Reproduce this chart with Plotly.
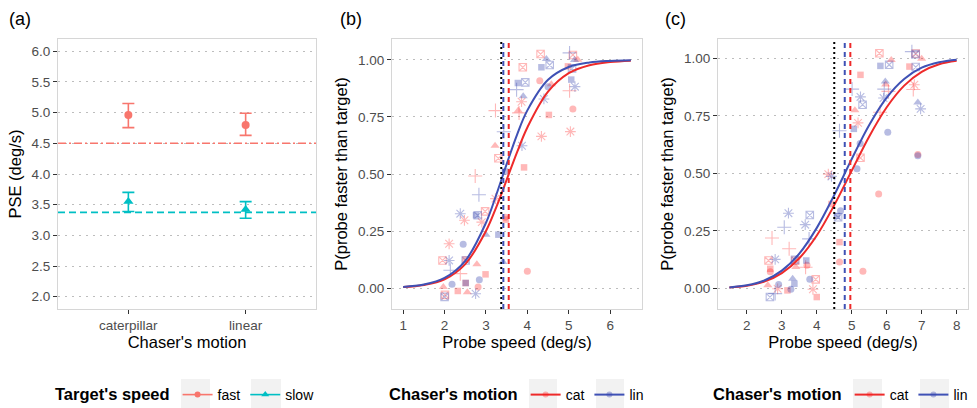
import plotly.graph_objects as go

W, H = 977, 408

# ---------------- Panel (a) data ----------------
a_motion = ["caterpillar", "linear"]
a_fast_pse = [4.96, 4.80]
a_fast_hi = [5.15, 4.99]
a_fast_lo = [4.755, 4.63]
a_slow_pse = [3.55, 3.42]
a_slow_hi = [3.70, 3.55]
a_slow_lo = [3.39, 3.28]
a_fast_target = 4.5
a_slow_target = 3.375
a_yticks = [2.0, 2.5, 3.0, 3.5, 4.0, 4.5, 5.0, 5.5, 6.0]

# ---------------- Panel (b) data ----------------
b_xticks = [1, 2, 3, 4, 5, 6]
p_yticks = [0.0, 0.25, 0.5, 0.75, 1.0]
b_target = 3.37
b_pse_lin = 3.42
b_pse_cat = 3.55
b_curve_x = [1.0, 1.5, 2.0, 2.5, 3.0, 3.25, 3.5, 3.75, 4.0, 4.5, 5.0, 5.5, 6.0, 6.5]
b_curve_cat = [0.004, 0.013, 0.038, 0.105, 0.250, 0.355, 0.474, 0.595, 0.704, 0.861, 0.942, 0.977, 0.991, 0.997]
b_curve_lin = [0.005, 0.015, 0.044, 0.119, 0.286, 0.409, 0.543, 0.672, 0.779, 0.913, 0.969, 0.989, 0.996, 0.999]

# points: (motion, shape, x, y)
b_pt_motion = ["cat", "lin", "lin", "lin", "lin", "cat", "cat", "lin", "cat", "lin",
               "cat", "lin", "lin", "lin", "lin", "cat", "cat", "cat", "cat", "cat",
               "cat", "lin", "lin", "lin", "lin", "cat", "cat", "cat", "cat", "cat",
               "lin", "cat", "cat", "cat", "lin", "lin",
               "cat", "lin", "cat", "lin", "cat", "lin", "lin", "cat", "cat", "lin",
               "lin", "cat", "cat", "cat", "lin", "cat", "lin", "lin", "cat", "cat",
               "lin", "cat", "cat", "lin", "lin", "lin", "cat", "cat", "cat", "cat",
               "lin", "lin", "cat", "cat", "cat", "lin"]
b_pt_shape = ["sqx", "tri", "sqx", "sq", "plus", "sqx", "tri", "tri", "sq", "sqx",
              "sqx", "sq", "sqx", "plus", "tri", "ast", "plus", "tri", "plus", "circ",
              "tri", "circ", "ast", "sq", "ast", "plus", "circ", "sq", "ast", "ast",
              "ast", "tri", "sqx", "sq", "plus", "sq",
              "plus", "plus", "ast", "ast", "ast", "sqx", "sq", "sqx", "ast", "tri",
              "sq", "circ", "sq", "ast", "circ", "sqx", "ast", "sqx", "sq", "tri",
              "plus", "plus", "sq", "circ", "circ", "sq", "sq", "tri", "sq", "tri",
              "ast", "sqx", "sqx", "circ", "circ", "tri"]
b_pt_x = [4.32, 4.46, 4.54, 4.34, 5.02, 5.10, 5.22, 5.14, 4.98, 5.08,
          3.89, 3.77, 3.95, 3.74, 3.90, 3.86, 3.23, 3.78, 3.80, 4.30,
          4.58, 4.50, 4.40, 5.06, 5.15, 5.02, 5.10, 4.52, 5.04, 4.34,
          3.87, 3.22, 3.30, 3.92, 3.43, 3.46,
          2.74, 2.83, 3.23, 2.38, 2.48, 2.80, 2.76, 2.98, 2.90, 3.00,
          3.30, 3.46, 3.48, 2.11, 2.45, 1.95, 2.11, 2.51, 2.50, 2.78,
          2.14, 2.38, 2.99, 2.84, 2.18, 2.51, 2.51, 1.97, 2.32, 2.55,
          2.75, 2.00, 2.01, 2.81, 4.00, 3.41]
b_pt_y = [1.026, 1.004, 0.978, 0.968, 1.031, 1.022, 1.001, 1.000, 0.972, 0.963,
          0.968, 0.899, 0.902, 0.870, 0.841, 0.817, 0.778, 0.778, 0.768, 0.909,
          0.894, 0.883, 0.829, 0.914, 0.883, 0.865, 0.785, 0.759, 0.686, 0.665,
          0.624, 0.624, 0.569, 0.529, 0.685, 0.511,
          0.491, 0.409, 0.392, 0.326, 0.297, 0.319, 0.319, 0.336, 0.289, 0.234,
          0.234, 0.310, 0.300, 0.194, 0.192, 0.121, 0.121, 0.121, 0.125, 0.104,
          0.078, 0.063, 0.060, 0.036, 0.016, 0.022, 0.022, 0.004, -0.013, -0.018,
          -0.025, -0.039, -0.030, 0.004, 0.073, 0.114]

# ---------------- Panel (c) data ----------------
c_xticks = [2, 3, 4, 5, 6, 7, 8]
c_target = 4.5
c_pse_lin = 4.80
c_pse_cat = 4.96
c_curve_x = [1.5, 2.0, 2.5, 3.0, 3.5, 4.0, 4.5, 5.0, 5.5, 6.0, 6.5, 7.0, 7.5, 8.0]
c_curve_cat = [0.004, 0.011, 0.029, 0.066, 0.131, 0.230, 0.362, 0.512, 0.661, 0.788, 0.882, 0.942, 0.975, 0.990]
c_curve_lin = [0.004, 0.013, 0.034, 0.077, 0.151, 0.263, 0.406, 0.563, 0.711, 0.830, 0.911, 0.960, 0.984, 0.995]

c_pt_motion = ["cat", "cat", "lin", "lin", "cat", "lin", "lin", "cat", "cat", "cat",
               "lin", "lin", "cat", "cat", "lin", "cat", "cat", "lin", "lin", "lin",
               "lin", "lin", "lin", "cat", "cat", "lin", "lin", "lin", "cat", "cat",
               "lin", "lin", "cat", "lin", "cat", "lin", "cat", "cat", "lin", "lin",
               "lin", "lin", "lin", "lin", "lin", "cat", "lin", "cat", "cat", "cat",
               "cat", "lin", "cat", "cat", "lin", "cat", "lin", "cat", "cat", "cat",
               "cat", "lin", "lin", "lin", "lin", "cat", "cat", "cat", "lin", "cat",
               "cat", "lin", "lin", "cat"]
c_pt_shape = ["sqx", "tri", "sq", "sqx", "sq", "plus", "sqx", "sqx", "tri", "sq",
              "sqx", "tri", "tri", "plus", "plus", "ast", "plus", "tri", "ast", "plus",
              "ast", "sqx", "ast", "tri", "ast", "sq", "plus", "circ", "plus", "circ",
              "circ", "circ", "sqx", "circ", "ast", "ast", "circ", "sq", "circ", "sqx",
              "sq", "ast", "sqx", "ast", "plus", "plus", "plus", "sq", "plus", "circ",
              "sqx", "ast", "sq", "circ", "sqx", "sqx", "sq", "tri", "plus", "circ",
              "sqx", "circ", "tri", "sq", "circ", "tri", "ast", "sq", "circ", "ast",
              "sq", "sqx", "plus", "circ"]
c_pt_x = [5.79, 6.13, 5.82, 6.07, 5.25, 6.72, 6.83, 6.83, 7.00, 6.65,
          6.83, 5.96, 5.97, 6.05, 5.93, 6.79, 6.76, 6.89, 6.97, 5.01,
          5.25, 5.31, 5.91, 5.09, 5.18, 5.06, 4.65, 6.03, 5.81, 6.89,
          6.89, 5.15, 5.25, 5.24, 4.33, 4.42, 5.77, 4.42, 4.68, 4.61,
          4.58, 3.19, 3.80, 3.67, 3.07, 2.72, 3.78, 4.65, 3.21, 4.65,
          2.62, 2.81, 2.67, 2.67, 3.38, 3.38, 3.70, 3.40, 3.68, 3.72,
          3.97, 3.80, 3.31, 3.36, 2.91, 2.60, 2.88, 3.16, 3.26, 3.89,
          4.00, 2.66, 2.81, 5.32]
c_pt_y = [1.023, 0.994, 0.968, 0.973, 0.929, 1.030, 1.019, 1.022, 0.999, 0.965,
          0.963, 0.900, 0.887, 0.857, 0.867, 0.886, 0.865, 0.809, 0.781, 0.867,
          0.833, 0.799, 0.828, 0.775, 0.720, 0.694, 0.686, 0.679, 0.766, 0.582,
          0.577, 0.520, 0.568, 0.630, 0.497, 0.487, 0.410, 0.367, 0.338, 0.309,
          0.315, 0.327, 0.319, 0.277, 0.266, 0.219, 0.215, 0.201, 0.172, 0.114,
          0.121, 0.126, 0.085, 0.072, 0.124, 0.120, 0.121, 0.093, 0.092, 0.100,
          0.039, 0.039, 0.042, 0.020, 0.017, 0.013, -0.002, -0.009, -0.004, -0.004,
          -0.038, -0.038, -0.023, 0.074]

# ---------------- styling ----------------
FONT = "Liberation Sans, Arial, sans-serif"
FAST_COL = "#F8766D"
SLOW_COL = "#00BFC4"
CAT_LINE = "#EE2A2A"
LIN_LINE = "#3F51B5"
CAT_PT = "rgba(255,20,20,0.30)"
LIN_PT = "rgba(55,70,175,0.36)"
SYMBOLS = {"circ": "circle", "sq": "square", "tri": "triangle-up",
           "plus": "cross-thin-open", "ast": "asterisk-open", "sqx": "square-x-open"}
SIZES = {"circ": 7, "sq": 6.5, "tri": 8, "plus": 10, "ast": 9, "sqx": 7.5}

ydom = [1 - 309 / H, 1 - 39 / H]
dom_a = [58 / W, 316 / W]
dom_b = [392 / W, 642 / W]
dom_c = [718 / W, 968 / W]

fig = go.Figure()

# ---- panel (a) ----
fig.add_trace(go.Scatter(
    x=a_motion, y=a_fast_pse, mode="markers", xaxis="x", yaxis="y", showlegend=False,
    marker=dict(symbol="circle", size=8, color=FAST_COL),
    error_y=dict(type="data", symmetric=False,
                 array=[h - p for h, p in zip(a_fast_hi, a_fast_pse)],
                 arrayminus=[p - l for p, l in zip(a_fast_pse, a_fast_lo)],
                 color=FAST_COL, thickness=1.6, width=6)))
fig.add_trace(go.Scatter(
    x=a_motion, y=a_slow_pse, mode="markers", xaxis="x", yaxis="y", showlegend=False,
    marker=dict(symbol="triangle-up", size=9, color=SLOW_COL),
    error_y=dict(type="data", symmetric=False,
                 array=[h - p for h, p in zip(a_slow_hi, a_slow_pse)],
                 arrayminus=[p - l for p, l in zip(a_slow_pse, a_slow_lo)],
                 color=SLOW_COL, thickness=1.6, width=6)))

# legend entries (a)
fig.add_trace(go.Scatter(x=[None], y=[None], mode="lines+markers", name="fast", legend="legend",
                         line=dict(color=FAST_COL, width=1.6), marker=dict(symbol="circle", size=6, color=FAST_COL),
                         xaxis="x", yaxis="y"))
fig.add_trace(go.Scatter(x=[None], y=[None], mode="lines+markers", name="slow", legend="legend",
                         line=dict(color=SLOW_COL, width=1.6), marker=dict(symbol="triangle-up", size=7, color=SLOW_COL),
                         xaxis="x", yaxis="y"))


def add_points(motions, shapes, xs, ys, xa, ya):
    for mot in ["cat", "lin"]:
        for shp in ["circ", "sq", "tri", "plus", "ast", "sqx"]:
            px = [x for m, s, x in zip(motions, shapes, xs) if m == mot and s == shp]
            py = [y for m, s, y in zip(motions, shapes, ys) if m == mot and s == shp]
            if not px:
                continue
            col = CAT_PT if mot == "cat" else LIN_PT
            open_sym = shp in ("plus", "ast", "sqx")
            fig.add_trace(go.Scatter(
                x=px, y=py, mode="markers", xaxis=xa, yaxis=ya, showlegend=False,
                marker=dict(symbol=SYMBOLS[shp], size=SIZES[shp],
                            color=col, line=dict(color=col, width=1.1 if open_sym else 0))))


def add_curves(cx, ccat, clin, xa, ya, leg):
    fig.add_trace(go.Scatter(x=cx, y=ccat, mode="lines", line=dict(color=CAT_LINE, width=2, shape="spline"),
                             xaxis=xa, yaxis=ya, showlegend=False))
    fig.add_trace(go.Scatter(x=cx, y=clin, mode="lines", line=dict(color=LIN_LINE, width=2, shape="spline"),
                             xaxis=xa, yaxis=ya, showlegend=False))
    fig.add_trace(go.Scatter(x=[None], y=[None], mode="lines+markers", name="cat", legend=leg,
                             line=dict(color=CAT_LINE, width=2), marker=dict(symbol="circle", size=6, color=CAT_PT),
                             xaxis=xa, yaxis=ya))
    fig.add_trace(go.Scatter(x=[None], y=[None], mode="lines+markers", name="lin", legend=leg,
                             line=dict(color=LIN_LINE, width=2), marker=dict(symbol="circle", size=6, color=LIN_PT),
                             xaxis=xa, yaxis=ya))


add_points(b_pt_motion, b_pt_shape, b_pt_x, b_pt_y, "x2", "y2")
add_curves(b_curve_x, b_curve_cat, b_curve_lin, "x2", "y2", "legend2")
add_points(c_pt_motion, c_pt_shape, c_pt_x, c_pt_y, "x3", "y3")
add_curves(c_curve_x, c_curve_cat, c_curve_lin, "x3", "y3", "legend3")

shapes = []
# horizontal target lines in (a)
shapes.append(dict(type="line", xref="x domain", yref="y", x0=0, x1=1, y0=a_fast_target, y1=a_fast_target,
                   line=dict(color=FAST_COL, width=1.6, dash="8px,3px,2px,3px"), layer="above"))
shapes.append(dict(type="line", xref="x domain", yref="y", x0=0, x1=1, y0=a_slow_target, y1=a_slow_target,
                   line=dict(color=SLOW_COL, width=1.6, dash="7px,4px"), layer="above"))
# vertical lines in (b) and (c)
for xa, ya, tgt, plin, pcat in [("x2", "y2", b_target, b_pse_lin, b_pse_cat),
                                ("x3", "y3", c_target, c_pse_lin, c_pse_cat)]:
    shapes.append(dict(type="line", xref=xa, yref=ya + " domain", x0=tgt, x1=tgt, y0=0, y1=1,
                       line=dict(color="black", width=2, dash="2px,3px"), layer="above"))
    shapes.append(dict(type="line", xref=xa, yref=ya + " domain", x0=plin, x1=plin, y0=0, y1=1,
                       line=dict(color=LIN_LINE, width=2, dash="5px,4px"), layer="above"))
    shapes.append(dict(type="line", xref=xa, yref=ya + " domain", x0=pcat, x1=pcat, y0=0, y1=1,
                       line=dict(color=CAT_LINE, width=2, dash="5px,4px"), layer="above"))
# legend key backgrounds
for x0, x1 in [(181, 210), (251, 281), (529, 557), (596, 624), (853, 882), (920, 949)]:
    shapes.append(dict(type="rect", xref="paper", yref="paper", x0=x0 / W, x1=x1 / W,
                       y0=0, y1=1 - 379 / H, fillcolor="#F2F2F2", line=dict(width=0), layer="below"))

axis_common = dict(showline=True, linecolor="#D6D6D6", linewidth=1, mirror=True,
                   ticks="outside", ticklen=4, tickwidth=1, tickcolor="#333333",
                   tickfont=dict(family=FONT, size=13.5, color="#4D4D4D"),
                   zeroline=False, automargin=False)
ygrid = dict(showgrid=True, gridcolor="#BDBDBD", gridwidth=1, griddash="2px,5px")
title_font = dict(family=FONT, size=16.5, color="black")

legend_common = dict(orientation="h", yanchor="middle", y=13 / H, xanchor="left",
                     bgcolor="rgba(0,0,0,0)", font=dict(family=FONT, size=14, color="black"),
                     itemsizing="trace")

fig.update_layout(
    width=W, height=H, autosize=False,
    margin=dict(l=0, r=0, t=0, b=0, pad=0, autoexpand=False),
    paper_bgcolor="white", plot_bgcolor="white",
    font=dict(family=FONT, color="black"),
    shapes=shapes,
    xaxis=dict(domain=dom_a, anchor="y", type="category", range=[-0.6, 1.6], showgrid=False,
               title=dict(text="Chaser's motion", font=title_font, standoff=4), **axis_common),
    yaxis=dict(domain=ydom, anchor="x", range=[1.8, 6.2], tickvals=a_yticks, tickformat=".1f",
               title=dict(text="PSE (deg/s)", font=title_font, standoff=5), **ygrid, **axis_common),
    xaxis2=dict(domain=dom_b, anchor="y2", range=[0.73, 6.77], tickvals=b_xticks, showgrid=False,
                title=dict(text="Probe speed (deg/s)", font=title_font, standoff=4), **axis_common),
    yaxis2=dict(domain=ydom, anchor="x2", range=[-0.092, 1.092], tickvals=p_yticks, tickformat=".2f",
                title=dict(text="P(probe faster than target)", font=title_font, standoff=6), **ygrid, **axis_common),
    xaxis3=dict(domain=dom_c, anchor="y3", range=[1.175, 8.325], tickvals=c_xticks, showgrid=False,
                title=dict(text="Probe speed (deg/s)", font=title_font, standoff=4), **axis_common),
    yaxis3=dict(domain=ydom, anchor="x3", range=[-0.09, 1.085], tickvals=p_yticks, tickformat=".2f",
                title=dict(text="P(probe faster than target)", font=title_font, standoff=6), **ygrid, **axis_common),
    legend=dict(x=53 / W, title=dict(text="Target's speed", side="left",
                                      font=dict(family=FONT, size=16.5, color="black", weight="bold")),
                **legend_common),
    legend2=dict(x=387 / W, title=dict(text="Chaser's motion", side="left",
                                        font=dict(family=FONT, size=16.5, color="black", weight="bold")),
                 **legend_common),
    legend3=dict(x=711 / W, title=dict(text="Chaser's motion", side="left",
                                        font=dict(family=FONT, size=16.5, color="black", weight="bold")),
                 **legend_common),
    annotations=[
        dict(text="(a)", x=7 / W, y=1 - 19 / H, xref="paper", yref="paper", xanchor="left", yanchor="middle",
             showarrow=False, font=dict(family=FONT, size=18, color="black")),
        dict(text="(b)", x=338 / W, y=1 - 19 / H, xref="paper", yref="paper", xanchor="left", yanchor="middle",
             showarrow=False, font=dict(family=FONT, size=18, color="black")),
        dict(text="(c)", x=663 / W, y=1 - 19 / H, xref="paper", yref="paper", xanchor="left", yanchor="middle",
             showarrow=False, font=dict(family=FONT, size=18, color="black")),
    ],
)

fig.write_html("out.html", config={"displayModeBar": False},
               post_script="document.body.style.margin='0';document.body.style.padding='0';"
                           "document.documentElement.style.margin='0';document.body.style.overflow='hidden';")
